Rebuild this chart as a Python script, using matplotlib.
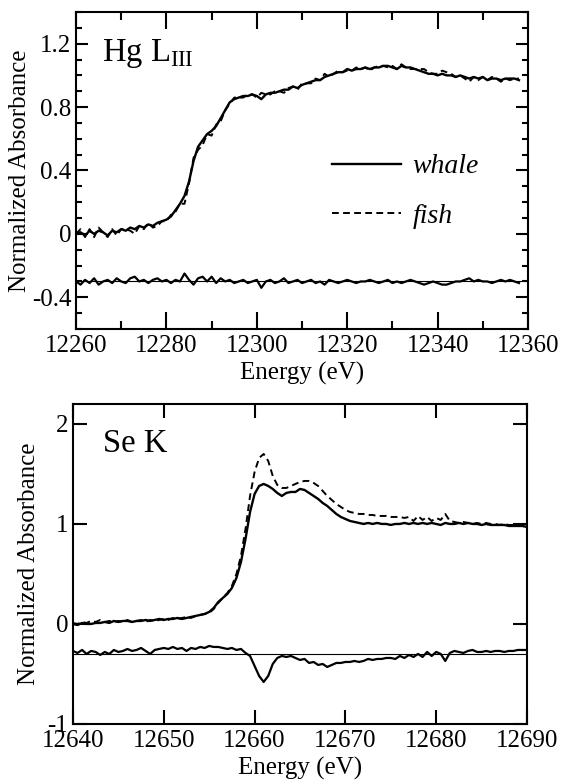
import numpy as np
import matplotlib
matplotlib.use("Agg")
import matplotlib.pyplot as plt
from matplotlib.lines import Line2D
from matplotlib.ticker import MultipleLocator

plt.rcParams['font.family'] = ['Liberation Serif', 'DejaVu Serif']
plt.rcParams['mathtext.fontset'] = 'custom'
plt.rcParams['mathtext.rm'] = 'Liberation Serif'
plt.rcParams['axes.unicode_minus'] = False

# Hg L_III edge, 1 eV grid
hg_energy = np.arange(12260, 12359, 1.0)
hg_whale = [
    0.00, 0.01, -0.01, 0.02, 0.00, 0.02, 0.01, -0.01, 0.02, 0.01,
    0.03, 0.02, 0.04, 0.03, 0.05, 0.04, 0.06, 0.05, 0.07, 0.08,
    0.09, 0.11, 0.15, 0.19, 0.24, 0.33, 0.46, 0.55, 0.59, 0.63,
    0.65, 0.68, 0.73, 0.78, 0.83, 0.85, 0.86, 0.87, 0.87, 0.88,
    0.87, 0.85, 0.88, 0.89, 0.89, 0.90, 0.91, 0.91, 0.93, 0.92,
    0.94, 0.95, 0.96, 0.97, 0.97, 0.99, 1.00, 1.01, 1.02, 1.02,
    1.04, 1.03, 1.04, 1.04, 1.05, 1.04, 1.05, 1.05, 1.06, 1.06,
    1.05, 1.04, 1.06, 1.05, 1.05, 1.04, 1.03, 1.02, 1.01, 1.01,
    1.00, 1.01, 1.00, 1.00, 0.99, 1.00, 0.99, 0.98, 0.99, 0.98,
    0.99, 0.97, 0.98, 0.98, 0.97, 0.98, 0.98, 0.98, 0.97,
]
# whale - fish
hg_resid = [
    0.00, -0.02, 0.01, -0.01, 0.02, -0.02, 0.00, 0.01, -0.01, 0.02,
    0.00, -0.01, 0.02, 0.03, 0.00, 0.01, -0.01, 0.01, 0.02, 0.00,
    0.01, -0.01, 0.01, 0.00, 0.05, 0.01, -0.02, 0.02, 0.03, 0.00,
    0.03, -0.01, 0.02, 0.00, 0.01, -0.01, 0.00, 0.01, -0.01, 0.00,
    0.01, -0.04, 0.00, 0.01, -0.01, 0.00, 0.02, -0.01, 0.00, 0.01,
    -0.01, 0.00, 0.01, -0.01, 0.00, -0.02, 0.01, 0.00, -0.01, 0.00,
    0.01, 0.00, -0.01, 0.00, 0.00, 0.01, 0.00, -0.01, 0.00, 0.01,
    -0.01, 0.00, -0.01, 0.00, 0.01, 0.00, -0.01, -0.02, -0.01, 0.00,
    -0.01, -0.02, -0.02, -0.01, 0.00, 0.00, 0.01, 0.02, 0.00, 0.01,
    0.00, 0.00, -0.01, 0.00, 0.01, 0.00, 0.01, 0.00, -0.01,
]

# Se K edge, 0.5 eV grid
se_energy = np.arange(12640, 12690.5, 0.5)
se_whale = [
    0.00, -0.01, 0.01, 0.00, 0.00, 0.01, 0.01, 0.02, 0.01, 0.03,
    0.02, 0.03, 0.03, 0.02, 0.03, 0.03, 0.04, 0.03, 0.04, 0.05,
    0.04, 0.05, 0.05, 0.06, 0.05, 0.06, 0.07, 0.08, 0.09, 0.10,
    0.12, 0.16, 0.22, 0.26, 0.30, 0.36, 0.46, 0.62, 0.85, 1.12,
    1.30, 1.38, 1.40, 1.38, 1.35, 1.31, 1.28, 1.31, 1.32, 1.32,
    1.35, 1.34, 1.31, 1.28, 1.25, 1.21, 1.18, 1.14, 1.10, 1.07,
    1.05, 1.03, 1.02, 1.01, 1.00, 1.01, 1.00, 1.01, 1.00, 1.00,
    0.99, 1.00, 1.00, 1.01, 1.00, 1.01, 1.00, 1.01, 1.00, 1.01,
    1.00, 0.99, 1.01, 1.00, 1.00, 1.01, 1.00, 1.01, 1.00, 1.00,
    0.99, 1.00, 0.99, 0.99, 0.99, 0.99, 0.98, 0.98, 0.98, 0.98,
    0.97,
]
se_fish = [
    0.01, 0.00, 0.02, 0.01, 0.03, 0.02, 0.04, 0.02, 0.03, 0.02,
    0.03, 0.02, 0.04, 0.02, 0.03, 0.04, 0.02, 0.04, 0.03, 0.04,
    0.05, 0.04, 0.06, 0.05, 0.06, 0.07, 0.06, 0.08, 0.09, 0.10,
    0.11, 0.15, 0.21, 0.26, 0.31, 0.38, 0.50, 0.68, 0.95, 1.28,
    1.52, 1.66, 1.70, 1.63, 1.48, 1.39, 1.36, 1.36, 1.38, 1.40,
    1.42, 1.43, 1.43, 1.41, 1.38, 1.33, 1.28, 1.24, 1.20, 1.17,
    1.14, 1.12, 1.11, 1.10, 1.10, 1.09, 1.09, 1.08, 1.08, 1.08,
    1.07, 1.07, 1.07, 1.06, 1.07, 1.03, 1.08, 1.04, 1.07, 1.03,
    1.06, 1.04, 1.10, 1.03, 1.02, 1.01, 1.02, 1.01, 1.00, 1.01,
    1.00, 1.01, 1.00, 1.00, 0.99, 1.00, 0.99, 0.99, 0.99, 0.98,
    0.97,
]
se_resid = [
    0.03, 0.01, 0.04, 0.00, 0.03, 0.02, -0.01, 0.02, 0.00, 0.04,
    0.02, 0.03, 0.05, 0.03, 0.04, 0.06, 0.03, 0.00, 0.04, 0.05,
    0.06, 0.05, 0.07, 0.05, 0.06, 0.03, 0.06, 0.05, 0.07, 0.06,
    0.08, 0.07, 0.07, 0.06, 0.05, 0.06, 0.04, 0.05, 0.01, -0.02,
    -0.12, -0.22, -0.28, -0.22, -0.10, -0.04, -0.02, -0.03, -0.02, -0.04,
    -0.06, -0.05, -0.09, -0.08, -0.11, -0.10, -0.13, -0.11, -0.09, -0.09,
    -0.08, -0.08, -0.07, -0.08, -0.07, -0.05, -0.06, -0.05, -0.05, -0.04,
    -0.04, -0.05, -0.02, -0.04, -0.01, -0.03, 0.00, -0.03, 0.02, -0.02,
    0.02, 0.00, -0.07, 0.01, 0.03, 0.02, 0.01, 0.03, 0.04, 0.02,
    0.02, 0.03, 0.02, 0.03, 0.03, 0.02, 0.03, 0.03, 0.04, 0.04,
    0.04,
]
resid_offset = -0.3

DASH = (0, (3.5, 2.2))


def style_axes(ax):
    for s in ax.spines.values():
        s.set_linewidth(1.5)
    ax.tick_params(which='both', direction='in', top=True, right=True,
                   width=1.5, labelsize=18)
    ax.tick_params(axis='x', which='both', pad=4.5)


fig = plt.figure(figsize=(5.64, 7.83), dpi=100)

# ---- top panel: Hg L_III
ax1 = fig.add_axes([0.1348, 0.5798, 0.8014, 0.4049])
hg_w = np.array(hg_whale)
hg_r = np.array(hg_resid)
ax1.plot(hg_energy, hg_w - hg_r, color='black', lw=1.4, ls=DASH)
ax1.plot(hg_energy, hg_w, color='black', lw=1.7)
ax1.axhline(resid_offset, color='black', lw=0.8)
ax1.plot(hg_energy, hg_r + resid_offset, color='black', lw=1.6)
ax1.set_xlim(12260, 12360)
ax1.set_ylim(-0.6, 1.4)
ax1.set_xticks([12260, 12280, 12300, 12320, 12340, 12360])
ax1.xaxis.set_minor_locator(MultipleLocator(10))
ax1.set_yticks([-0.4, 0, 0.4, 0.8, 1.2])
ax1.set_yticklabels(['-0.4', '0', '0.4', '0.8', '1.2'])
ax1.yaxis.set_minor_locator(MultipleLocator(0.1))
style_axes(ax1)
ax1.tick_params(axis='x', which='major', length=12)
ax1.tick_params(axis='x', which='minor', length=6)
ax1.tick_params(axis='y', which='major', length=8.5)
ax1.tick_params(axis='y', which='minor', length=4.5)
ax1.set_xlabel('Energy (eV)', fontsize=18, labelpad=3)
ax1.set_ylabel('Normalized Absorbance', fontsize=18, labelpad=0.5)
ax1.text(0.0575, 0.845, r'Hg L$_{\mathrm{III}}$', transform=ax1.transAxes,
         fontsize=23.5, va='baseline', ha='left')

handles = [Line2D([], [], color='black', lw=1.7),
           Line2D([], [], color='black', lw=1.4, ls=DASH)]
ax1.legend(handles, ['whale', 'fish'], loc='upper left',
           bbox_to_anchor=(0.566, 0.552), frameon=False,
           prop={'style': 'italic', 'size': 20}, handlelength=2.5,
           handletextpad=0.4, labelspacing=0.85, borderpad=0,
           borderaxespad=0)

# ---- bottom panel: Se K
ax2 = fig.add_axes([0.1294, 0.0754, 0.805, 0.4087])
ax2.plot(se_energy, se_fish, color='black', lw=1.4, ls=DASH)
ax2.plot(se_energy, se_whale, color='black', lw=1.7)
ax2.axhline(resid_offset, color='black', lw=0.8)
ax2.plot(se_energy, np.array(se_resid) + resid_offset, color='black', lw=1.6)
ax2.set_xlim(12640, 12690)
ax2.set_ylim(-1, 2.2)
ax2.set_xticks([12640, 12650, 12660, 12670, 12680, 12690])
ax2.set_yticks([-1, 0, 1, 2])
ax2.set_yticklabels(['-1', '0', '1', '2'])
style_axes(ax2)
ax2.tick_params(which='major', length=10)
ax2.set_xlabel('Energy (eV)', fontsize=18, labelpad=3.5)
ax2.set_ylabel('Normalized Absorbance', fontsize=18, labelpad=5)
ax2.text(0.066, 0.85, 'Se K', transform=ax2.transAxes,
         fontsize=23.5, va='baseline', ha='left')

fig.savefig('out.png', dpi=100)
